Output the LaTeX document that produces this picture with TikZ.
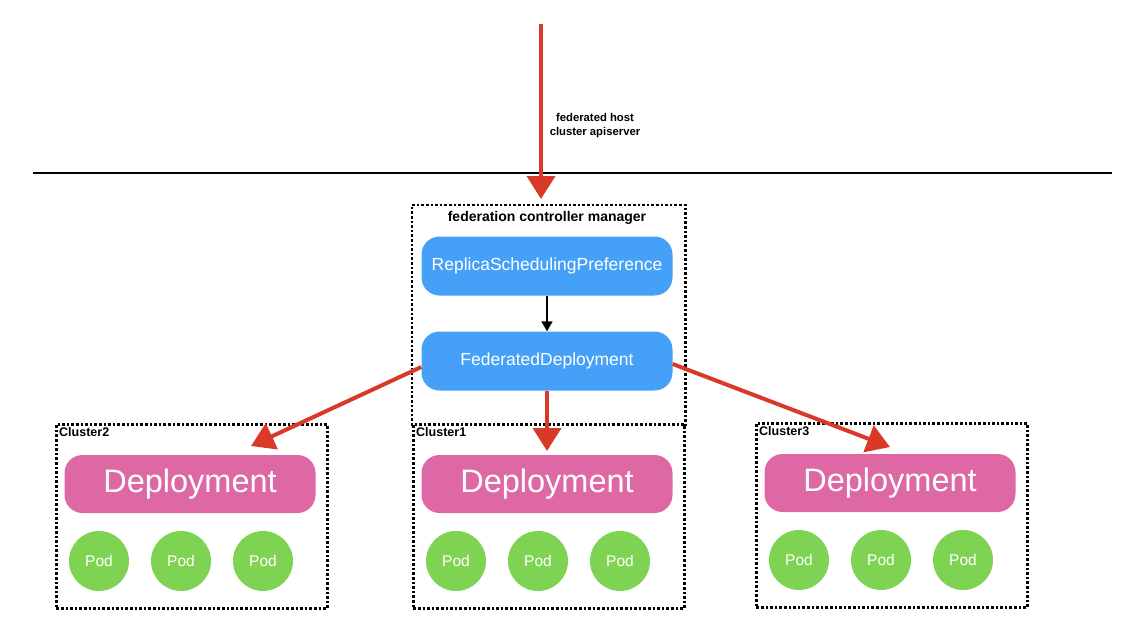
\documentclass[tikz,border=0pt]{standalone}
\usepackage{fontspec}
\setmainfont{Liberation Sans}
\usetikzlibrary{arrows.meta,positioning}

\definecolor{fedblue}{RGB}{69,161,247}
\definecolor{deppink}{RGB}{221,104,164}
\definecolor{podgreen}{RGB}{126,212,82}
\definecolor{pushred}{RGB}{217,57,40}

\begin{document}
\begin{tikzpicture}[x=1pt,y=-1pt,
  dots/.style={line width=2.6pt,dash pattern=on 2.6pt off 2pt},
  box/.style={draw,dots,minimum width=271pt,minimum height=184pt,
    inner sep=0pt,anchor=north west},
  ctrl/.style={fill=fedblue,text=white,rounded corners=18pt,
    minimum width=251pt,minimum height=59pt,font=\fontsize{17.5}{20}\selectfont},
  dep/.style={fill=deppink,text=white,rounded corners=18pt,
    minimum width=251pt,minimum height=58pt,font=\fontsize{32.5}{38}\selectfont},
  pod/.style={circle,fill=podgreen,text=white,minimum size=60pt,inner sep=0pt,
    font=\fontsize{15.5}{18}\selectfont},
  tag/.style={anchor=north west,inner sep=4pt,font=\bfseries\fontsize{12.5}{14}\selectfont},
  push/.style={draw=pushred,line width=4pt,-{Triangle[width=28pt,length=23pt]}}]

\useasboundingbox (0,0) rectangle (1129,642);

% host cluster boundary
\coordinate (wl) at (33,173);
\coordinate (wr) at (1112,173);
\draw[line width=2.8pt] (wl) -- (wr);

% apiserver
\coordinate (api) at (541,24);
\coordinate (in) at (541,199);
\draw[push] (api) -- (in);
\node[align=center,font=\bfseries\fontsize{11.3}{14}\selectfont] (apilbl) at (595,126)
  {federated host\\cluster apiserver};

% controller manager (open at the bottom, Cluster1 closes it)
\node[box,draw=none,minimum height=218pt] (mgr) at (412,205) {};
\draw[dots] (mgr.south west) -- (mgr.north west) -- (mgr.north east) -- (mgr.south east);
\node[font=\bfseries\fontsize{14}{16}\selectfont] (mgrlbl) at (547,218)
  {federation controller manager};
\node[ctrl] (rsp) at (547,266) {ReplicaSchedulingPreference};
\node[ctrl] (fd) at (547,361) {FederatedDeployment};
\draw[line width=1.6pt,-{Triangle[width=11pt,length=10pt]}] (rsp) -- (fd);

% member clusters
\foreach \n/\x/\y in {2/55/423, 1/412/423, 3/755/422}
{
  \node[box] (c\n) at (\x,\y) {};
  \node[tag] (l\n) at (c\n.north west) {Cluster\n};
  \node[dep] (d\n) at (\x+135,\y+61) {Deployment};
  \foreach \i in {0,1,2}
    \node[pod] (p\n\i) at (\x+44+82*\i,\y+138) {Pod};
}

% propagation
\coordinate (t2) at (251,446);
\coordinate (t1) at (547,451);
\coordinate (t3) at (890,447);
\draw[push] ([yshift=-6pt]fd.west) -- (t2);
\draw[push] (fd.south) -- (t1);
\draw[push] ([yshift=-3pt]fd.east) -- (t3);
\end{tikzpicture}
\end{document}
